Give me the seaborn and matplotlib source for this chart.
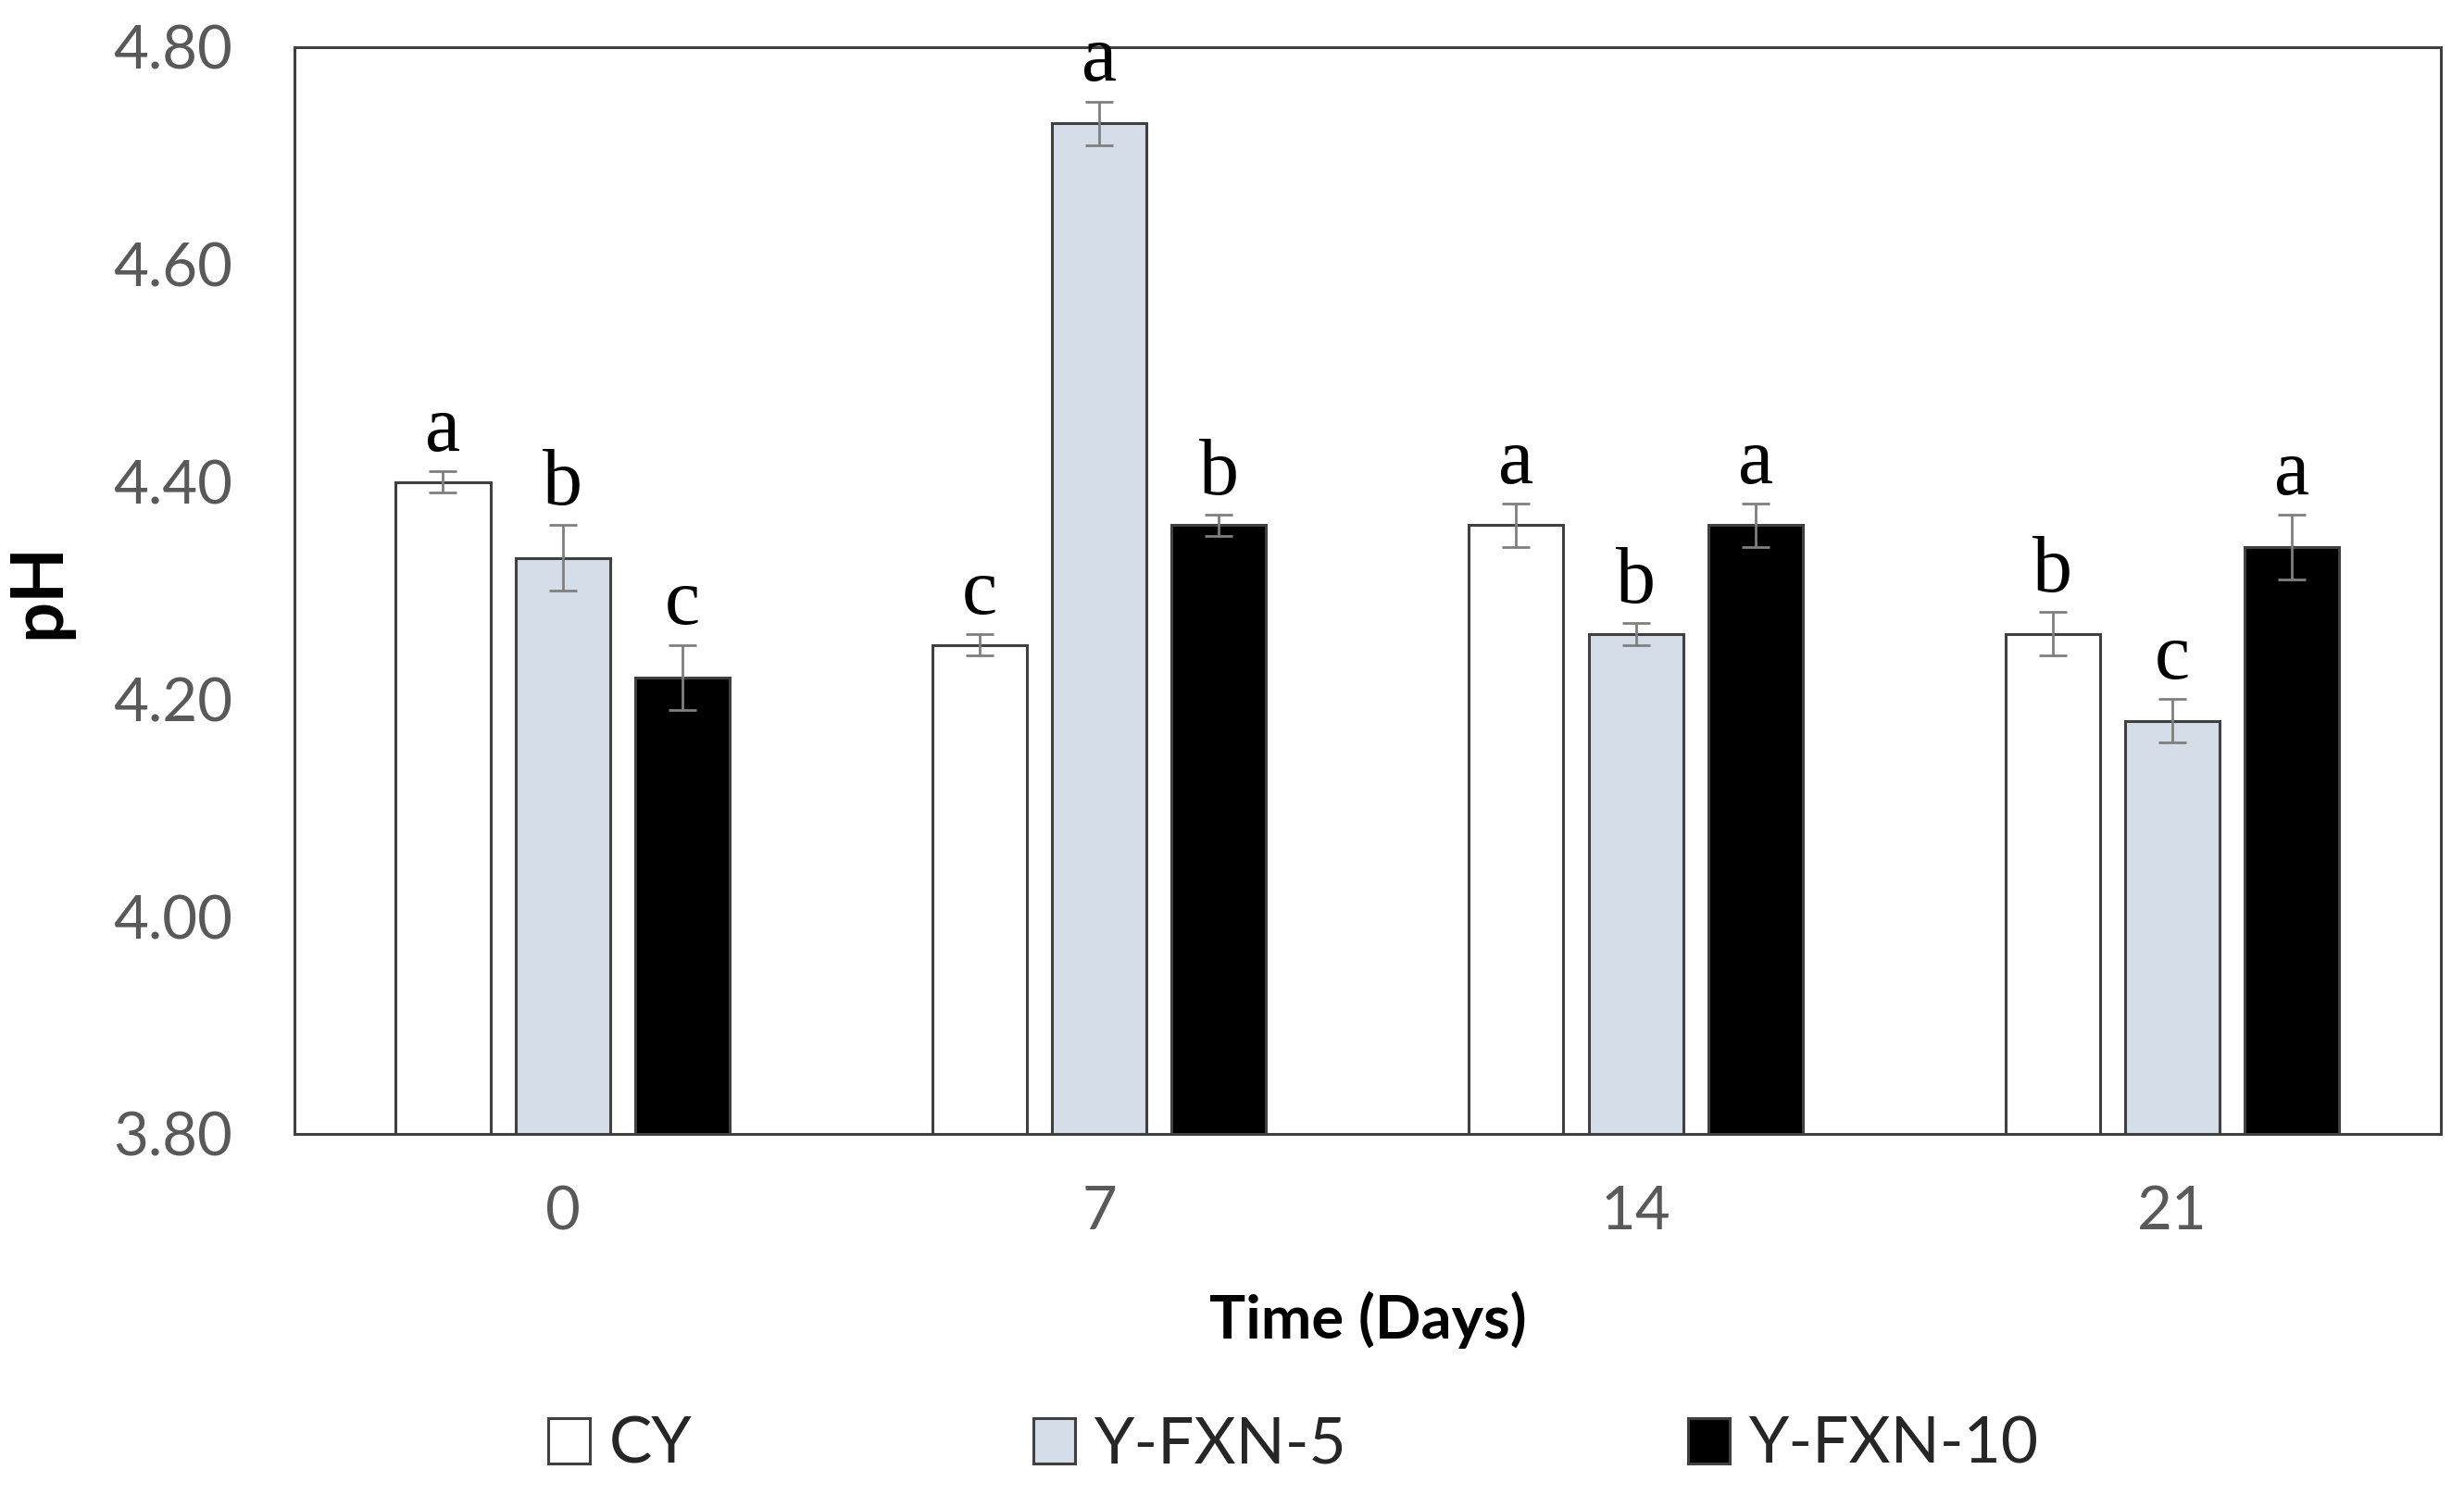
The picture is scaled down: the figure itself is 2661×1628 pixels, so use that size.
import matplotlib
matplotlib.use("Agg")
import matplotlib.pyplot as plt
import seaborn as sns
import pandas as pd

days = ["0", "7", "14", "21"]
treatments = ["CY", "Y-FXN-5", "Y-FXN-10"]
ph_cy = [4.40, 4.25, 4.36, 4.26]
ph_fxn5 = [4.33, 4.73, 4.26, 4.18]
ph_fxn10 = [4.22, 4.36, 4.36, 4.34]
err_cy = [0.01, 0.01, 0.02, 0.02]
err_fxn5 = [0.03, 0.02, 0.01, 0.02]
err_fxn10 = [0.03, 0.01, 0.02, 0.03]
let_cy = ["a", "c", "a", "b"]
let_fxn5 = ["b", "a", "b", "c"]
let_fxn10 = ["c", "b", "a", "a"]
y_ticks = [3.80, 4.00, 4.20, 4.40, 4.60, 4.80]

values = [ph_cy, ph_fxn5, ph_fxn10]
errors = [err_cy, err_fxn5, err_fxn10]
letters = [let_cy, let_fxn5, let_fxn10]

rows = []
for t, vals in zip(treatments, values):
    for d, v in zip(days, vals):
        rows.append({"Day": d, "Treatment": t, "pH": v})
df = pd.DataFrame(rows)

sns.set_theme(style="white")
plt.rcParams["font.family"] = ["Lato", "DejaVu Sans"]

fig = plt.figure(figsize=(26.61, 16.28), dpi=100)
ax = fig.add_axes([0.1195, 0.2476, 0.8710, 0.7211])

palette = {"CY": "#ffffff", "Y-FXN-5": "#d5dee8", "Y-FXN-10": "#000000"}
sns.barplot(data=df, x="Day", y="pH", hue="Treatment", order=days,
            hue_order=treatments, palette=palette, width=0.669, gap=0.21,
            edgecolor="#404040", linewidth=2.2, errorbar=None, ax=ax,
            saturation=1)

for cont, errs, lets in zip(ax.containers, errors, letters):
    for bar, e, l in zip(cont, errs, lets):
        xc = bar.get_x() + bar.get_width() / 2
        h = bar.get_height()
        ax.errorbar(xc, h, yerr=e, fmt="none", ecolor="#7f7f7f",
                    elinewidth=2.0, capsize=11, capthick=2.0, zorder=5)
        ax.annotate(l, (xc, h + e), xytext=(0, 16), textcoords="offset points",
                    ha="center", va="baseline", fontsize=62,
                    family=["Liberation Serif", "DejaVu Serif"], color="black")

ax.set_ylim(3.80, 4.80)
ax.set_xlim(-0.5, 3.5)
ax.set_yticks(y_ticks)
ax.set_yticklabels([f"{v:.2f}" for v in y_ticks])
ax.tick_params(axis="both", length=0, labelsize=47, labelcolor="#595959")
ax.tick_params(axis="y", pad=48)
ax.tick_params(axis="x", pad=40)
ax.set_xlabel("Time (Days)", fontsize=47, fontweight="bold", color="black", labelpad=40)
ax.set_ylabel("pH", fontsize=56, fontweight="bold", color="black", labelpad=32)

for s in ax.spines.values():
    s.set_visible(True)
    s.set_color("#404040")
    s.set_linewidth(2.2)

handles, labels = ax.get_legend_handles_labels()
ax.get_legend().remove()
fig.legend(handles, labels, loc="center", bbox_to_anchor=(0.525, 0.041),
           ncol=3, frameon=False, fontsize=50, handlelength=0.65,
           handleheight=0.72, handletextpad=0.3, columnspacing=5.3)

fig.savefig("out.png", dpi=100)
